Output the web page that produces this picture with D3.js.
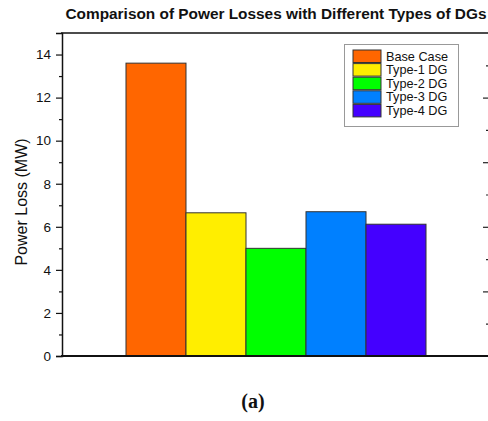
<!DOCTYPE html>
<html>
<head>
<meta charset="utf-8">
<script src="https://cdn.jsdelivr.net/npm/d3@7"></script>
<style>
  html, body { margin: 0; padding: 0; background: #fff; }
  svg { display: block; }
</style>
</head>
<body>
<svg id="chart" width="488" height="421"></svg>
<script>
// Power loss per configuration (MW)
const groups = ["Power Loss"];
const series = ["Base Case", "Type-1 DG", "Type-2 DG", "Type-3 DG", "Type-4 DG"];
const values = [13.6, 6.65, 5.0, 6.7, 6.12];
const colors = ["#FF6600", "#FFEE00", "#00FF00", "#0080FF", "#4400FF"];
const majorTicks = [0, 2, 4, 6, 8, 10, 12, 14];
const minorTicks = [1, 3, 5, 7, 9, 11, 13];
const nextPanelMajor = [3, 6, 9, 12];
const nextPanelMinor = [1.5, 4.5, 7.5, 10.5, 13.5];

const svg = d3.select("#chart");
const plotLeft = 62, plotRight = 490, plotTop = 33, plotBottom = 356;

const y = d3.scaleLinear().domain([0, 15]).range([plotBottom, plotTop]);
const xGroup = d3.scaleBand().domain(groups).range([plotLeft, plotRight])
  .paddingInner(0).paddingOuter(0.2133);
const xSeries = d3.scaleBand().domain(series).range([0, xGroup.bandwidth()]).padding(0);

// Title
svg.append("text")
  .attr("x", 276).attr("y", 19)
  .attr("text-anchor", "middle")
  .attr("font-family", "Liberation Sans, Arial, sans-serif")
  .attr("font-weight", "bold")
  .attr("font-size", 14)
  .attr("textLength", 421)
  .attr("lengthAdjust", "spacingAndGlyphs")
  .attr("fill", "#111")
  .text("Comparison of Power Losses with Different Types of DGs");

// Bars
const g = svg.append("g").attr("transform", `translate(${xGroup(groups[0])},0)`);
g.selectAll("rect").data(series).join("rect")
  .attr("x", d => xSeries(d))
  .attr("y", (d, i) => y(values[i]))
  .attr("width", xSeries.bandwidth())
  .attr("height", (d, i) => y(0) - y(values[i]))
  .attr("fill", (d, i) => colors[i])
  .attr("stroke", "#333")
  .attr("stroke-width", 1);

// Frame: top and bottom lines
svg.append("line").attr("x1", plotLeft - 1).attr("x2", 488).attr("y1", plotTop).attr("y2", plotTop)
  .attr("stroke", "#111").attr("stroke-width", 1.5);
svg.append("line").attr("x1", plotLeft - 1).attr("x2", 488).attr("y1", plotBottom).attr("y2", plotBottom)
  .attr("stroke", "#111").attr("stroke-width", 1.8);

// Left axis with major and minor ticks
const yAxis = d3.axisLeft(y).tickValues(majorTicks).tickSize(6).tickPadding(5).tickFormat(d3.format("d"));
const ag = svg.append("g").attr("transform", `translate(${plotLeft},0)`).call(yAxis);
ag.select(".domain").attr("stroke", "#111").attr("stroke-width", 1.5);
ag.selectAll(".tick line").attr("stroke", "#111").attr("stroke-width", 1.2);
ag.selectAll(".tick text")
  .attr("font-family", "Liberation Sans, Arial, sans-serif")
  .attr("font-size", 13.5).attr("fill", "#111");
const minor = svg.append("g").attr("transform", `translate(${plotLeft},0)`)
  .call(d3.axisLeft(y).tickValues(minorTicks).tickSize(3).tickFormat(""));
minor.select(".domain").remove();
minor.selectAll(".tick line").attr("stroke", "#111").attr("stroke-width", 1.2);

// Axis ticks of the adjacent panel at the right edge
const nextMajor = svg.append("g").attr("transform", "translate(489,0)")
  .call(d3.axisLeft(y).tickValues(nextPanelMajor).tickSize(6).tickFormat(""));
nextMajor.select(".domain").remove();
nextMajor.selectAll(".tick line").attr("stroke", "#222").attr("stroke-width", 1.2);
const nextMinor = svg.append("g").attr("transform", "translate(489,0)")
  .call(d3.axisLeft(y).tickValues(nextPanelMinor).tickSize(3).tickFormat(""));
nextMinor.select(".domain").remove();
nextMinor.selectAll(".tick line").attr("stroke", "#222").attr("stroke-width", 1.2);

// Y axis title
svg.append("text")
  .attr("transform", "translate(27,202) rotate(-90)")
  .attr("text-anchor", "middle")
  .attr("font-family", "Liberation Sans, Arial, sans-serif")
  .attr("font-size", 16)
  .attr("fill", "#111")
  .text("Power Loss (MW)");

// Legend
const lg = svg.append("g");
lg.append("rect").attr("x", 344.5).attr("y", 44.5).attr("width", 114).attr("height", 82)
  .attr("fill", "#fff").attr("stroke", "#999").attr("stroke-width", 1);
const rowH = 13.6;
series.forEach((s, i) => {
  lg.append("rect")
    .attr("x", 353).attr("y", 50 + i * rowH)
    .attr("width", 28).attr("height", 12.5)
    .attr("fill", colors[i]).attr("stroke", "#333").attr("stroke-width", 1);
  lg.append("text")
    .attr("x", 386).attr("y", 60.5 + i * rowH)
    .attr("font-family", "Liberation Sans, Arial, sans-serif")
    .attr("font-size", 12.7).attr("fill", "#111")
    .text(s);
});

// Panel caption
svg.append("text")
  .attr("x", 253).attr("y", 408)
  .attr("text-anchor", "middle")
  .attr("font-family", "Liberation Serif, DejaVu Serif, serif")
  .attr("font-weight", "bold")
  .attr("font-size", 20)
  .attr("fill", "#111")
  .text("(a)");
</script>
</body>
</html>
